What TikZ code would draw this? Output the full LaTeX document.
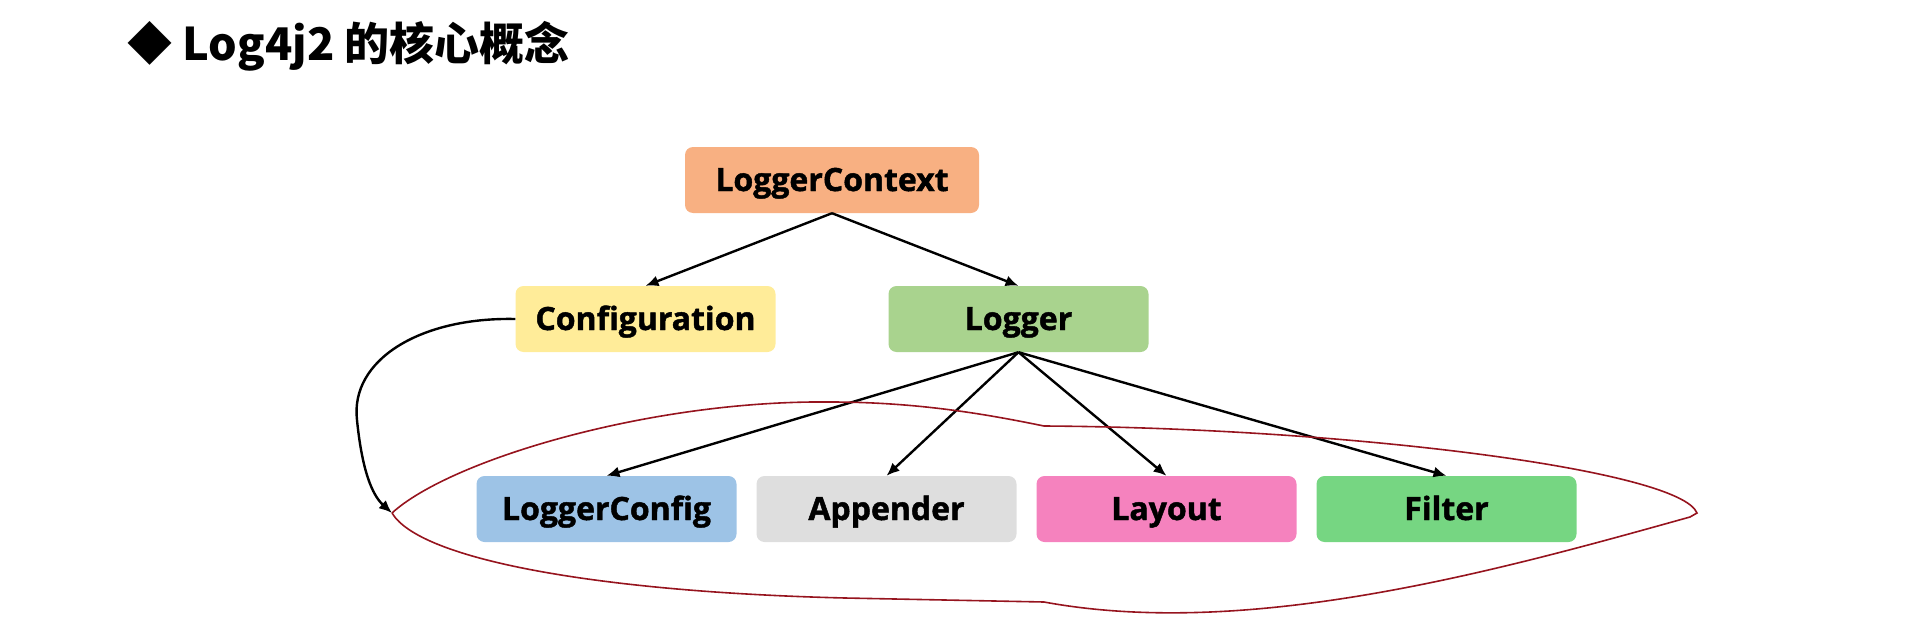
\documentclass[tikz,border=0pt]{standalone}
\usepackage{fontspec}
\setmainfont{Open Sans}[BoldFeatures={FakeBold=1.4}]
\newfontfamily\cjkfont{Noto Sans CJK SC}
\usepackage{tikz}
\usetikzlibrary{arrows.meta}
\usetikzlibrary{positioning}
\definecolor{ctxorange}{RGB}{248,176,130}
\definecolor{cfgyellow}{RGB}{255,236,153}
\definecolor{lgrgreen}{RGB}{169,211,142}
\definecolor{lcblue}{RGB}{157,195,230}
\definecolor{appgrey}{RGB}{222,222,222}
\definecolor{laypink}{RGB}{245,130,190}
\definecolor{filgreen}{RGB}{118,214,130}
\definecolor{loopred}{RGB}{150,20,30}
\begin{document}
\begin{tikzpicture}[x=1pt,y=-1pt,
  box/.style={rounded corners=8pt, minimum width=260pt, minimum height=66pt,
    text height=28pt, text depth=6pt,
    font=\fontsize{32}{38}\selectfont\bfseries},
  arr/.style={line width=2.4pt, -{Latex[length=13pt,width=11pt]}},
  edge from parent/.style={draw, arr},
  edge from parent path={(\tikzparentnode.south) -- (\tikzchildnode.north)},
  level 1/.style={sibling distance=373pt, level distance=139pt},
  level 2/.style={sibling distance=280pt, level distance=190pt,
    every child node/.style={xshift=8pt}}]
\useasboundingbox (0,0) rectangle (1920,634);
\node[anchor=base west, inner sep=0pt, font=\cjkfont\fontsize{45}{50}\selectfont\bfseries] (title) at (127,60) {◆ Log4j2 的核心概念};
\node[box, minimum width=294pt, fill=ctxorange] (ctx) at (832,180) {LoggerContext}
child {node[box, fill=cfgyellow] (cfg) {Configuration}}
child {node[box, fill=lgrgreen] (lgr) {Logger}
	child {node[box, fill=lcblue] (lcfg) {LoggerConfig}}
	child {node[box, fill=appgrey] (app) {Appender}}
	child {node[box, fill=laypink] (lay) {Layout}}
	child {node[box, fill=filgreen] (fil) {Filter}}
};
% hand-drawn loop round the lower boxes
\coordinate (lt) at (392,513);
\coordinate (rt) at (1697,513);
\draw[loopred, line width=1.6pt] (lt) .. controls (450,460) and (650,400) .. (830,402)
  .. controls (920,402) and (990,415) .. (1044,426)
  .. controls (1350,428) and (1680,470) .. (rt) -- (1690,517)
  .. controls (1500,570) and (1250,640) .. (1044,602) -- (845,598)
  .. controls (600,592) and (420,560) .. (lt);
\draw[arr] (cfg.west) .. controls (420,317) and (350,360) .. (357,420)
  .. controls (362,470) and (372,495) .. (lt);
\end{tikzpicture}
\end{document}
